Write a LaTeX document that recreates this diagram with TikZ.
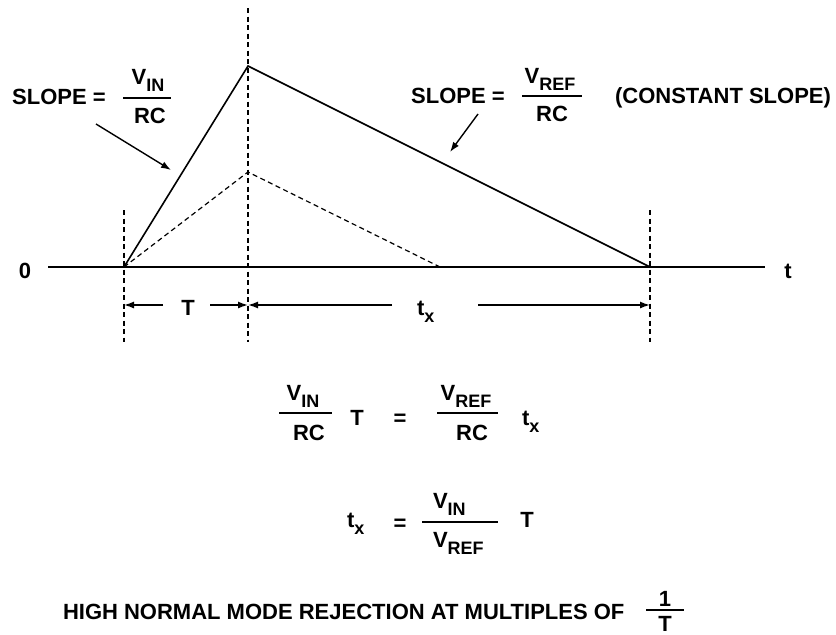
\documentclass[tikz,border=0pt]{standalone}
\usepackage{fontspec}
\setmainfont{Liberation Sans}
\usetikzlibrary{arrows.meta}
\newcommand\sbx[2]{#1\raisebox{-7pt}{\fontsize{18}{18}\selectfont #2}}
\begin{document}
\begin{tikzpicture}[x=1pt,y=-1pt,
  every node/.style={inner sep=0pt,outer sep=0pt,font=\fontsize{22}{24}\selectfont\bfseries},
  lbl/.style={anchor=base},
  lblw/.style={anchor=base west},
  solidln/.style={line width=1.6pt},
  dashln/.style={line width=1.2pt,dash pattern=on 5pt off 3.5pt},
  fbar/.style={line width=1.5pt},
  tip/.style={-{Latex[length=10pt,width=7pt]},line width=1.4pt}]
\useasboundingbox (0,0) rectangle (836,635);
% key points
\coordinate (ax0) at (48,267);
\coordinate (ax1) at (765,267);
\coordinate (O) at (124,267);
\coordinate (P) at (248,66);
\coordinate (Pd) at (248,172);
\coordinate (Dd) at (440,267);
\coordinate (E) at (650,267);
\coordinate (vTtop) at (248,8);
\coordinate (vTbot) at (248,342);
\coordinate (vOtop) at (124,210);
\coordinate (vObot) at (124,342);
\coordinate (vEtop) at (650,210);
\coordinate (vEbot) at (650,342);
% axis and waveforms
\draw[solidln] (ax0) -- (ax1);
\draw[solidln,line join=miter] (O) -- (P) -- (E);
\draw[dashln] (O) -- (Pd) -- (Dd);
\draw[dashln] (vTtop) -- (vTbot);
\draw[dashln] (vOtop) -- (vObot);
\draw[dashln] (vEtop) -- (vEbot);
\node[lbl] (zero) at (25,278) {0};
\node[lbl] (tax) at (788,278) {t};
% dimension arrows
\coordinate (dO) at (124,305);
\coordinate (dT) at (248,305);
\coordinate (dE) at (650,305);
\coordinate (a1) at (163,305);
\coordinate (a2) at (210,305);
\coordinate (a3) at (392,305);
\coordinate (a4) at (478,305);
\draw[tip] (a1) -- (dO);
\draw[tip] (a2) -- (dT);
\draw[tip] (a3) -- (dT);
\draw[tip] (a4) -- (dE);
\node[lbl] (Tlab) at (188,315) {T};
\node[lblw] (txlab) at (417,315) {\sbx{t}{x}};
% left slope label
\node[lbl] (slopeL) at (59,104) {SLOPE =};
\node[lbl] (vinL) at (148,84) {\sbx{V}{IN}};
\coordinate (bL0) at (123,98);
\coordinate (bL1) at (171,98);
\draw[fbar] (bL0) -- (bL1);
\node[lbl] (rcL) at (150,123) {RC};
\coordinate (arL0) at (96,124);
\coordinate (arL1) at (171,170);
\draw[tip] (arL0) -- (arL1);
% right slope label
\node[lbl] (slopeR) at (458,103) {SLOPE =};
\node[lbl] (vrefR) at (550,83) {\sbx{V}{REF}};
\coordinate (bR0) at (522,96);
\coordinate (bR1) at (582,96);
\draw[fbar] (bR0) -- (bR1);
\node[lbl] (rcR) at (552,121) {RC};
\node[lbl] (const) at (723,103) {(CONSTANT SLOPE)};
\coordinate (arR0) at (478,114);
\coordinate (arR1) at (450,152);
\draw[tip] (arR0) -- (arR1);
% equation 1
\node[lbl] (e1vin) at (303,400) {\sbx{V}{IN}};
\coordinate (e1b0) at (279,413);
\coordinate (e1b1) at (332,413);
\draw[fbar] (e1b0) -- (e1b1);
\node[lbl] (e1rc) at (309,440) {RC};
\node[lbl] (e1T) at (357,425) {T};
\node[lbl] (e1eq) at (400,425) {=};
\node[lbl] (e1vref) at (466,400) {\sbx{V}{REF}};
\coordinate (e2b0) at (437,413);
\coordinate (e2b1) at (498,413);
\draw[fbar] (e2b0) -- (e2b1);
\node[lbl] (e1rc2) at (472,440) {RC};
\node[lblw] (e1tx) at (522,425) {\sbx{t}{x}};
% equation 2
\node[lblw] (e2tx) at (347,527) {\sbx{t}{x}};
\node[lbl] (e2eq) at (400,530) {=};
\node[lblw] (e2vin) at (433,508) {\sbx{V}{IN}};
\coordinate (e3b0) at (422,522);
\coordinate (e3b1) at (498,522);
\draw[fbar] (e3b0) -- (e3b1);
\node[lblw] (e2vref) at (433,547) {\sbx{V}{REF}};
\node[lbl] (e2T) at (527,527) {T};
% bottom line
\node[lblw] (hnmr) at (63,619) {HIGH NORMAL MODE REJECTION AT MULTIPLES OF};
\node[lbl] (one) at (665,606) {1};
\coordinate (e4b0) at (646,610);
\coordinate (e4b1) at (684,610);
\draw[fbar] (e4b0) -- (e4b1);
\node[lbl] (oneT) at (665,631) {T};
\end{tikzpicture}
\end{document}
